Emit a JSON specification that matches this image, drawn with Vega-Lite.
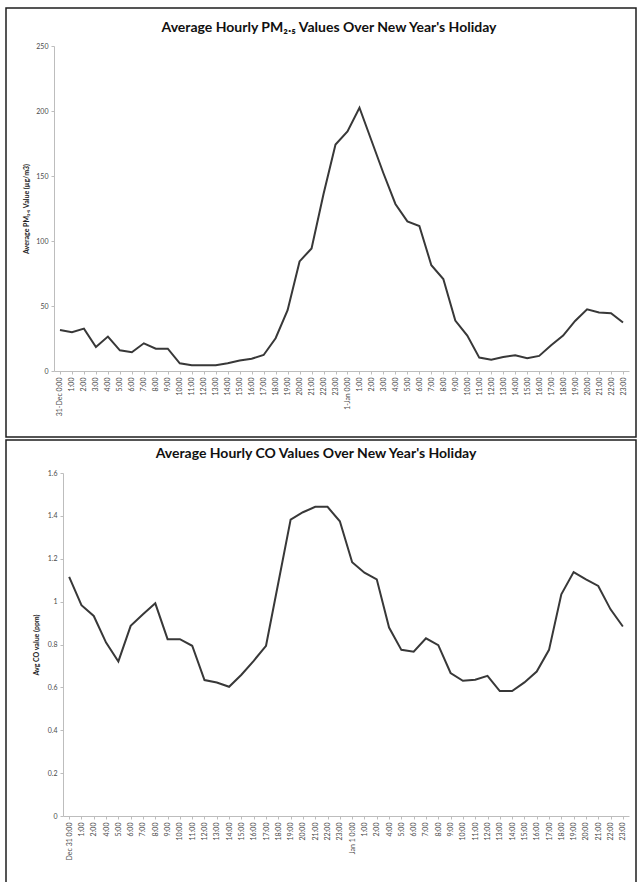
{
  "$schema": "https://vega.github.io/schema/vega-lite/v6.json",
  "padding": {"left": 5, "top": 7, "right": 2, "bottom": 2},
  "background": "white",
  "spacing": 1,
  "config": {
    "view": {"stroke": "#1e1e1e", "strokeWidth": 1.5},
    "font": "Lato",
    "axis": {"grid": false, "domainColor": "#bdbdbd", "tickColor": "#bdbdbd", "labelColor": "#4a4a4a", "labelFontSize": 7, "titleFontSize": 7, "titleColor": "#222222", "titleFontWeight": "bold", "tickSize": 3, "labelPadding": 3},
    "title": {"fontSize": 14, "font": "Lato", "fontWeight": "bold", "color": "#111111", "anchor": "middle", "baseline": "middle", "frame": "group"}
  },
  "datasets": {
    "pm": [
      {"t": 0, "pm": 31.6}, {"t": 1, "pm": 29.8}, {"t": 2, "pm": 32.6}, {"t": 3, "pm": 18.5},
      {"t": 4, "pm": 26.5}, {"t": 5, "pm": 15.9}, {"t": 6, "pm": 14.4}, {"t": 7, "pm": 21.3},
      {"t": 8, "pm": 17.2}, {"t": 9, "pm": 17.2}, {"t": 10, "pm": 5.9}, {"t": 11, "pm": 4.4},
      {"t": 12, "pm": 4.4}, {"t": 13, "pm": 4.4}, {"t": 14, "pm": 5.9}, {"t": 15, "pm": 8.0},
      {"t": 16, "pm": 9.5}, {"t": 17, "pm": 12.3}, {"t": 18, "pm": 25.2}, {"t": 19, "pm": 46.8},
      {"t": 20, "pm": 84.3}, {"t": 21, "pm": 94.3}, {"t": 22, "pm": 136.2}, {"t": 23, "pm": 174.2},
      {"t": 24, "pm": 184.2}, {"t": 25, "pm": 202.5}, {"t": 26, "pm": 177.3}, {"t": 27, "pm": 152.1},
      {"t": 28, "pm": 128.5}, {"t": 29, "pm": 115.1}, {"t": 30, "pm": 111.5}, {"t": 31, "pm": 81.4},
      {"t": 32, "pm": 70.7}, {"t": 33, "pm": 38.8}, {"t": 34, "pm": 27.2}, {"t": 35, "pm": 10.3},
      {"t": 36, "pm": 8.7}, {"t": 37, "pm": 10.8}, {"t": 38, "pm": 12.1}, {"t": 39, "pm": 9.8},
      {"t": 40, "pm": 11.6}, {"t": 41, "pm": 19.8}, {"t": 42, "pm": 27.2}, {"t": 43, "pm": 38.5},
      {"t": 44, "pm": 47.5}, {"t": 45, "pm": 45.0}, {"t": 46, "pm": 44.4}, {"t": 47, "pm": 37.3}
    ],
    "co": [
      {"t": 0, "co": 1.115}, {"t": 1, "co": 0.983}, {"t": 2, "co": 0.933}, {"t": 4, "co": 0.809},
      {"t": 5, "co": 0.721}, {"t": 6, "co": 0.887}, {"t": 7, "co": 0.941}, {"t": 8, "co": 0.992},
      {"t": 9, "co": 0.825}, {"t": 10, "co": 0.825}, {"t": 11, "co": 0.794}, {"t": 12, "co": 0.634},
      {"t": 13, "co": 0.623}, {"t": 14, "co": 0.603}, {"t": 15, "co": 0.659}, {"t": 16, "co": 0.724},
      {"t": 17, "co": 0.794}, {"t": 18, "co": 1.088}, {"t": 19, "co": 1.383}, {"t": 20, "co": 1.417},
      {"t": 21, "co": 1.442}, {"t": 22, "co": 1.442}, {"t": 23, "co": 1.375}, {"t": 24, "co": 1.184},
      {"t": 25, "co": 1.135}, {"t": 26, "co": 1.104}, {"t": 28, "co": 0.879}, {"t": 29, "co": 0.775},
      {"t": 30, "co": 0.766}, {"t": 31, "co": 0.829}, {"t": 32, "co": 0.797}, {"t": 33, "co": 0.667},
      {"t": 34, "co": 0.631}, {"t": 35, "co": 0.636}, {"t": 36, "co": 0.654}, {"t": 37, "co": 0.583},
      {"t": 38, "co": 0.583}, {"t": 39, "co": 0.623}, {"t": 40, "co": 0.674}, {"t": 41, "co": 0.775},
      {"t": 42, "co": 1.034}, {"t": 43, "co": 1.138}, {"t": 44, "co": 1.104}, {"t": 45, "co": 1.073},
      {"t": 46, "co": 0.964}, {"t": 47, "co": 0.884}
    ]
  },
  "vconcat": [
    {
      "width": 630,
      "height": 429,
      "title": {"text": "Average Hourly PM₂.₅ Values Over New Year's Holiday", "offset": -27, "dx": 8},
      "data": {"name": "pm"},
      "mark": {"type": "line", "color": "#383838", "strokeWidth": 2},
      "encoding": {
        "x": {
          "field": "t", "type": "ordinal",
          "scale": {"type": "point", "range": [48, 623], "padding": 0.5},
          "axis": {"title": null, "offset": -66, "labelAngle": -90,
            "labelExpr": "datum.value == 0 ? '31-Dec 0:00' : datum.value == 24 ? '1-Jan 0:00' : (datum.value % 24) + ':00'"}
        },
        "y": {
          "field": "pm", "type": "quantitative",
          "scale": {"domain": [0, 250], "range": [363, 38], "nice": false},
          "axis": {"title": "Average PM₂.₅ Value (µg/m3)", "offset": -48, "values": [0, 50, 100, 150, 200, 250], "titlePadding": 6}
        }
      }
    },
    {
      "width": 630,
      "height": 443,
      "title": {"text": "Average Hourly CO Values Over New Year's Holiday", "offset": -21, "dx": -5},
      "data": {"name": "co"},
      "mark": {"type": "line", "color": "#383838", "strokeWidth": 2},
      "encoding": {
        "x": {
          "field": "t", "type": "ordinal",
          "scale": {"type": "point", "range": [57, 623], "padding": 0.5},
          "axis": {"title": null, "offset": -67, "labelAngle": -90,
            "labelExpr": "datum.value == 0 ? 'Dec 31  0:00' : datum.value == 24 ? 'Jan 1  0:00' : (datum.value % 24) + ':00'"}
        },
        "y": {
          "field": "co", "type": "quantitative",
          "scale": {"domain": [0, 1.6], "range": [376, 33], "nice": false},
          "axis": {"title": "Avg CO value (ppm)", "offset": -57, "values": [0, 0.2, 0.4, 0.6, 0.8, 1, 1.2, 1.4, 1.6], "format": "~g", "titlePadding": 8}
        }
      }
    }
  ]
}
